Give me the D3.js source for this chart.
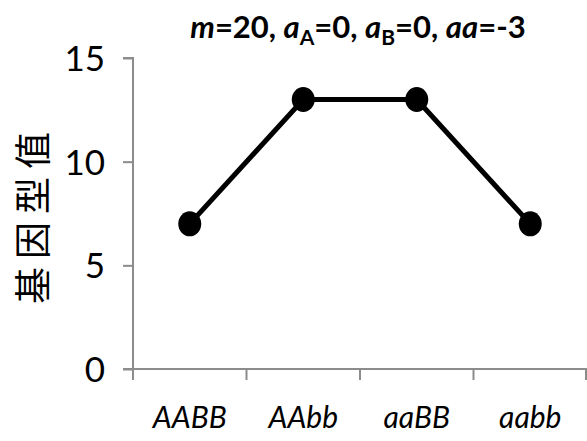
<!DOCTYPE html>
<html><head><meta charset="utf-8">
<script src="https://cdn.jsdelivr.net/npm/d3@7"></script>
<style>html,body{margin:0;padding:0;background:#fff;}</style>
</head><body>
<script>
const categories = ["AABB", "AAbb", "aaBB", "aabb"];
const values = [7, 13, 13, 7];
const yTicks = [0, 5, 10, 15];
const yLabel = "基因型值";

const W = 587, H = 441;
const svg = d3.select("body").append("svg").attr("width", W).attr("height", H);

const x = d3.scaleBand().domain(categories).range([133, 587]);
const y = d3.scaleLinear().domain([0, 15]).range([369, 58]);
const axisColor = "#8c8c8c";
const font = "Lato, 'Open Sans', sans-serif";

// y axis
const gy = svg.append("g").attr("transform", "translate(133,0)")
  .call(d3.axisLeft(y).tickValues(yTicks).tickSize(10).tickPadding(18).tickFormat(d3.format("d")));
gy.select(".domain").attr("stroke", axisColor).attr("stroke-width", 2).attr("d", `M-10,${y(15)}H0V${y(0)}`);
gy.selectAll(".tick line").attr("stroke", axisColor).attr("stroke-width", 2);
gy.selectAll(".tick text").attr("font-family", font).attr("font-size", 35).attr("fill", "#000").attr("dy", "0.36em");

// x axis
const gx = svg.append("g").attr("transform", `translate(0,${y(0)})`)
  .call(d3.axisBottom(x).tickSize(0).tickPadding(0));
gx.select(".domain").remove();
gx.append("line").attr("x1", 123).attr("x2", 587).attr("y1", 0).attr("y2", 0)
  .attr("stroke", axisColor).attr("stroke-width", 2);
const bounds = categories.map(c => x(c) + x.bandwidth());
gx.selectAll(".bt").data([133].concat(bounds)).enter().append("line")
  .attr("x1", d => Math.min(d, 586)).attr("x2", d => Math.min(d, 586)).attr("y1", 0).attr("y2", 11)
  .attr("stroke", axisColor).attr("stroke-width", 2);
gx.selectAll(".tick text").attr("font-family", font).attr("font-size", 30).attr("font-style", "italic")
  .attr("fill", "#000").attr("y", 59).attr("dy", 0);

// line
const line = d3.line().x((d, i) => x(categories[i]) + x.bandwidth() / 2).y(d => y(d));
svg.append("path").datum(values).attr("d", line).attr("fill", "none")
  .attr("stroke", "#000").attr("stroke-width", 5);
svg.selectAll(".pt").data(values).enter().append("ellipse")
  .attr("cx", (d, i) => x(categories[i]) + x.bandwidth() / 2).attr("cy", d => y(d))
  .attr("rx", 11.5).attr("ry", 12.5).attr("fill", "#000");

// y label
svg.append("text").attr("transform", `translate(47,214) rotate(-90)`)
  .attr("text-anchor", "middle").attr("font-family", "'Noto Sans CJK SC', sans-serif")
  .attr("font-size", 37).attr("letter-spacing", 8).attr("fill", "#000").text(yLabel);

// title
const t = svg.append("text").attr("x", 358).attr("y", 38).attr("text-anchor", "middle")
  .attr("font-family", font).attr("font-size", 31).attr("font-weight", "bold").attr("fill", "#000");
const parts = [
  ["m", "italic"], ["=20, ", "normal"], ["a", "italic"], ["A", "sub"], ["=0, ", "normal"],
  ["a", "italic"], ["B", "sub"], ["=0, ", "normal"], ["aa", "italic"], ["=-3", "normal"]
];
parts.forEach(([s, k], i) => {
  const ts = t.append("tspan").text(s);
  if (k === "italic") ts.attr("font-style", "italic");
  if (k === "sub") ts.attr("font-size", 21).attr("dy", 7);
  else if (i > 0 && parts[i - 1][1] === "sub") ts.attr("dy", -7);
});
</script>
</body></html>
